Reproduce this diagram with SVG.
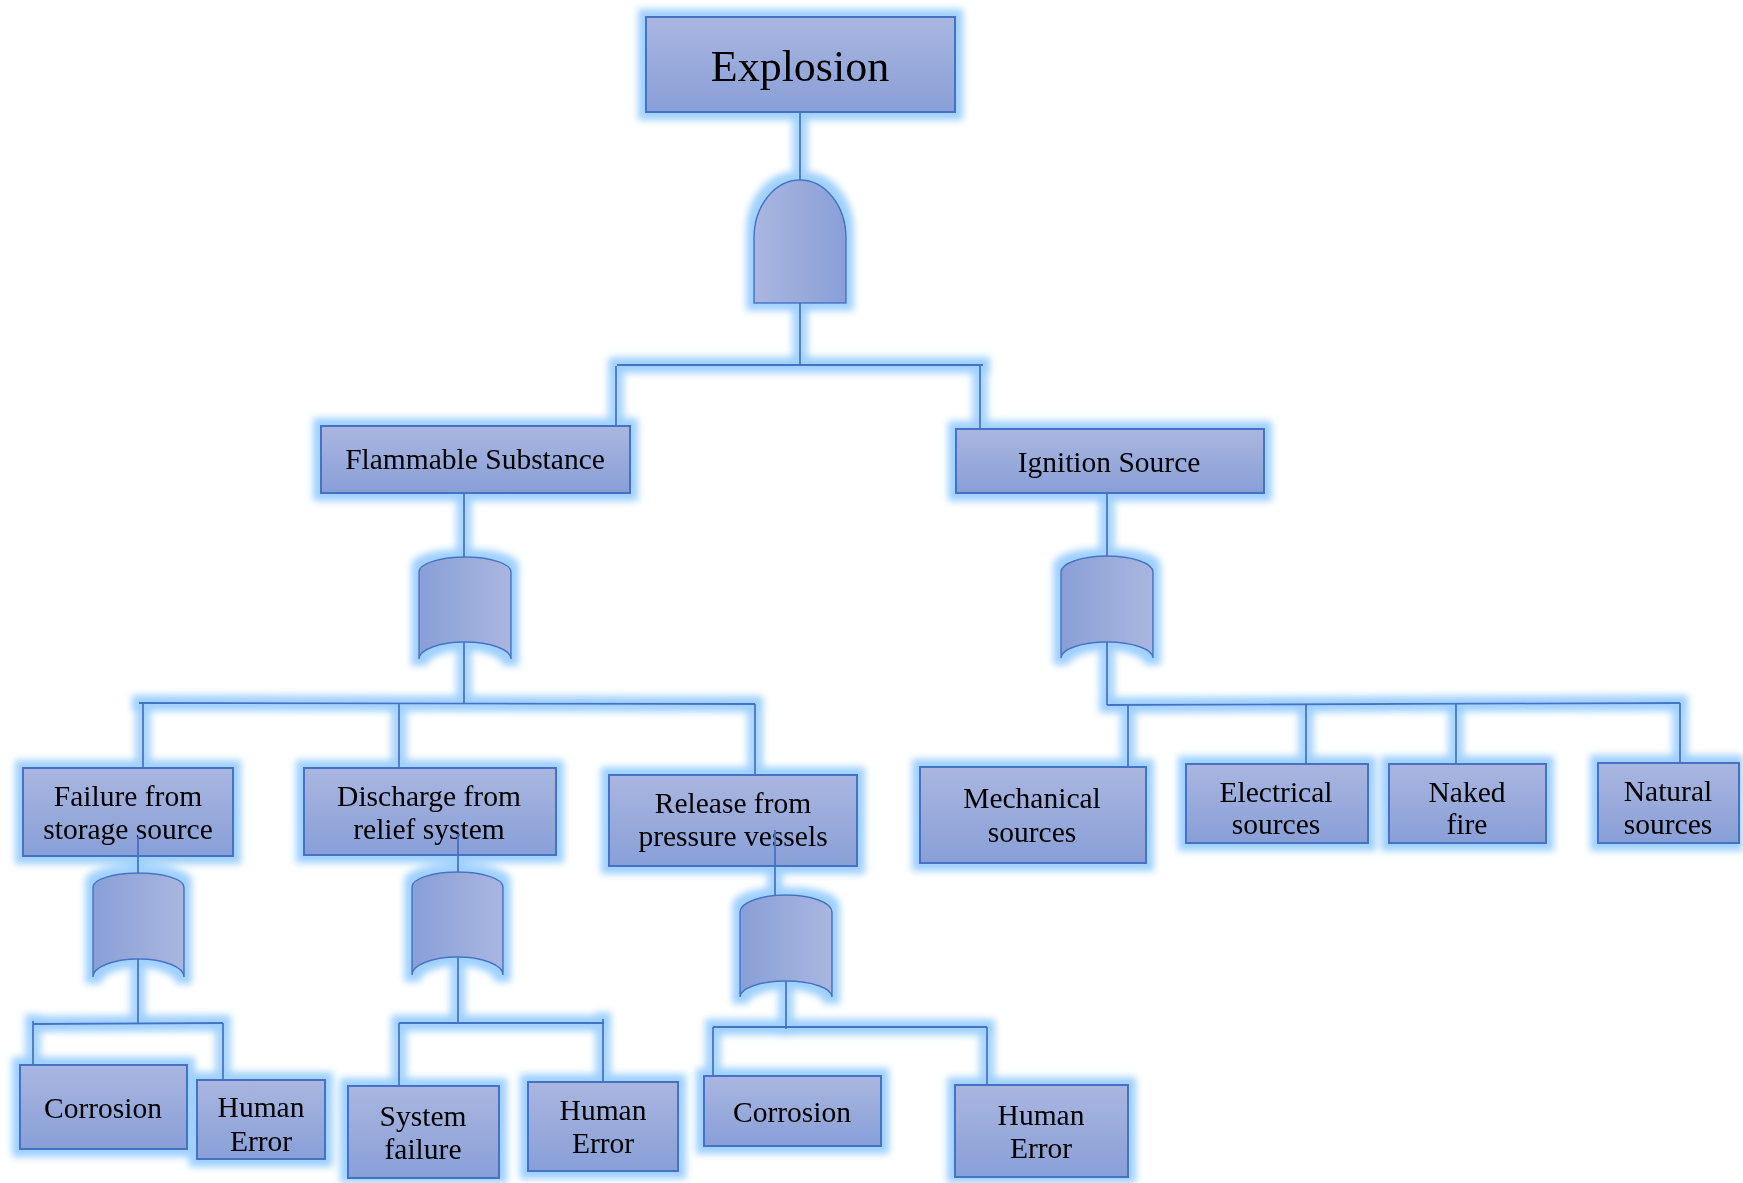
<svg xmlns="http://www.w3.org/2000/svg" width="1743" height="1183" viewBox="0 0 1743 1183">
<defs>
<linearGradient id="boxGrad" x1="0" y1="0" x2="0" y2="1">
<stop offset="0" stop-color="#aab6e0"/>
<stop offset="1" stop-color="#889fd7"/>
</linearGradient>
<linearGradient id="orGrad" x1="0" y1="0" x2="1" y2="0">
<stop offset="0" stop-color="#889fd7"/>
<stop offset="1" stop-color="#aab6e0"/>
</linearGradient>
<linearGradient id="andGrad" x1="0" y1="0" x2="1" y2="0">
<stop offset="0" stop-color="#aab6e0"/>
<stop offset="1" stop-color="#889fd7"/>
</linearGradient>
<filter id="glow" filterUnits="userSpaceOnUse" x="0" y="0" width="1743" height="1183">
<feMorphology in="SourceAlpha" operator="dilate" radius="7" result="d"/>
<feGaussianBlur in="d" stdDeviation="3.5" result="b"/>
<feFlood flood-color="#9fd0ff"/>
<feComposite in2="b" operator="in" result="g"/>
<feMerge><feMergeNode in="g"/><feMergeNode in="SourceGraphic"/></feMerge>
</filter>
</defs>
<style>
.box{fill:url(#boxGrad);stroke:#4472c4;stroke-width:2}
.or{fill:url(#orGrad);stroke:#4472c4;stroke-width:1.5}
.and{fill:url(#andGrad);stroke:#4472c4;stroke-width:1.5}
.t{font-family:"Liberation Serif","Times New Roman",serif;font-size:29.5px;fill:#000;text-anchor:middle}
.big{font-size:44px}
#connectors path{fill:none;stroke:#4472c4;stroke-width:1.8}
</style>
<rect width="1743" height="1183" fill="#ffffff"/>
<g filter="url(#glow)">
<g id="explosion"><rect class="box" x="646" y="17" width="309" height="95"/><text class="t big" x="800" y="81">Explosion</text></g>
<g id="gate-and"><path class="and" d="M754,303 L754,238 A46,58 0 0 1 846,238 L846,303 Z"/></g>
<g id="flammable"><rect class="box" x="321" y="426" width="309" height="67"/><text class="t" x="475" y="469">Flammable Substance</text></g>
<g id="ignition"><rect class="box" x="956" y="429" width="308" height="64"/><text class="t" x="1109" y="472">Ignition Source</text></g>
<g id="gate-or-flammable"><path class="or" d="M419,572 A46,15 0 0 1 511,572 L511,659 A46,17 0 0 0 419,659 Z"/></g>
<g id="gate-or-ignition"><path class="or" d="M1061,572 A46,16 0 0 1 1153,572 L1153,658 A46,16 0 0 0 1061,658 Z"/></g>
<g id="failure"><rect class="box" x="23" y="768" width="210" height="88"/><text class="t" x="128" y="806">Failure from</text><text class="t" x="128" y="839">storage source</text></g>
<g id="discharge"><rect class="box" x="304" y="768" width="252" height="87"/><text class="t" x="429" y="806">Discharge from</text><text class="t" x="429" y="839">relief system</text></g>
<g id="release"><rect class="box" x="609" y="775" width="248" height="91"/><text class="t" x="733" y="813">Release from</text><text class="t" x="733" y="846">pressure vessels</text></g>
<g id="mechanical"><rect class="box" x="920" y="767" width="226" height="96"/><text class="t" x="1032" y="808">Mechanical</text><text class="t" x="1032" y="842">sources</text></g>
<g id="electrical"><rect class="box" x="1186" y="764" width="182" height="79"/><text class="t" x="1276" y="802">Electrical</text><text class="t" x="1276" y="834">sources</text></g>
<g id="naked"><rect class="box" x="1389" y="764" width="157" height="79"/><text class="t" x="1467" y="802">Naked</text><text class="t" x="1467" y="834">fire</text></g>
<g id="natural"><rect class="box" x="1598" y="763" width="141" height="80"/><text class="t" x="1668" y="801">Natural</text><text class="t" x="1668" y="834">sources</text></g>
<g id="gate-or-failure"><path class="or" d="M93,887 A45.5,14 0 0 1 184,887 L184,977 A45.5,18 0 0 0 93,977 Z"/></g>
<g id="gate-or-discharge"><path class="or" d="M412,887 A45.5,15 0 0 1 503,887 L503,975 A45.5,18 0 0 0 412,975 Z"/></g>
<g id="gate-or-release"><path class="or" d="M740,912 A46,17 0 0 1 832,912 L832,997 A46,16 0 0 0 740,997 Z"/></g>
<g id="corrosion1"><rect class="box" x="20" y="1065" width="167" height="84"/><text class="t" x="103" y="1118">Corrosion</text></g>
<g id="human1"><rect class="box" x="197" y="1080" width="128" height="79"/><text class="t" x="261" y="1117">Human</text><text class="t" x="261" y="1151">Error</text></g>
<g id="system"><rect class="box" x="348" y="1086" width="151" height="92"/><text class="t" x="423" y="1126">System</text><text class="t" x="423" y="1159">failure</text></g>
<g id="human2"><rect class="box" x="528" y="1082" width="150" height="89"/><text class="t" x="603" y="1120">Human</text><text class="t" x="603" y="1153">Error</text></g>
<g id="corrosion2"><rect class="box" x="704" y="1076" width="177" height="70"/><text class="t" x="792" y="1122">Corrosion</text></g>
<g id="human3"><rect class="box" x="955" y="1085" width="173" height="92"/><text class="t" x="1041" y="1125">Human</text><text class="t" x="1041" y="1158">Error</text></g>
<g id="connectors">
<path d="M800,112 V180"/>
<path d="M800,303 V365"/>
<path d="M617,365 H983"/>
<path d="M616,366 V426"/>
<path d="M980,365 V429"/>
<path d="M464,493 V557"/>
<path d="M464,642 V703"/>
<path d="M139,703 L755,704"/>
<path d="M143,703 V768"/>
<path d="M399,703 V768"/>
<path d="M755,704 V775"/>
<path d="M1107,493 V556"/>
<path d="M1107,642 V705"/>
<path d="M1107,705 L1680,703"/>
<path d="M1128,705 V767"/>
<path d="M1306,704 V764"/>
<path d="M1456,704 V764"/>
<path d="M1680,703 V763"/>
<path d="M138,837 V873"/>
<path d="M138,959 V1024"/>
<path d="M33,1024 L223,1023"/>
<path d="M33,1021 V1065"/>
<path d="M223,1023 V1080"/>
<path d="M458,834 V872"/>
<path d="M458,957 V1023"/>
<path d="M399,1023 H604"/>
<path d="M603,1019 V1082"/>
<path d="M399,1023 V1086"/>
<path d="M775,830 V895"/>
<path d="M786,981 V1029"/>
<path d="M713,1027 H987"/>
<path d="M713,1027 V1076"/>
<path d="M987,1027 V1085"/>
</g>
</g>
</svg>
